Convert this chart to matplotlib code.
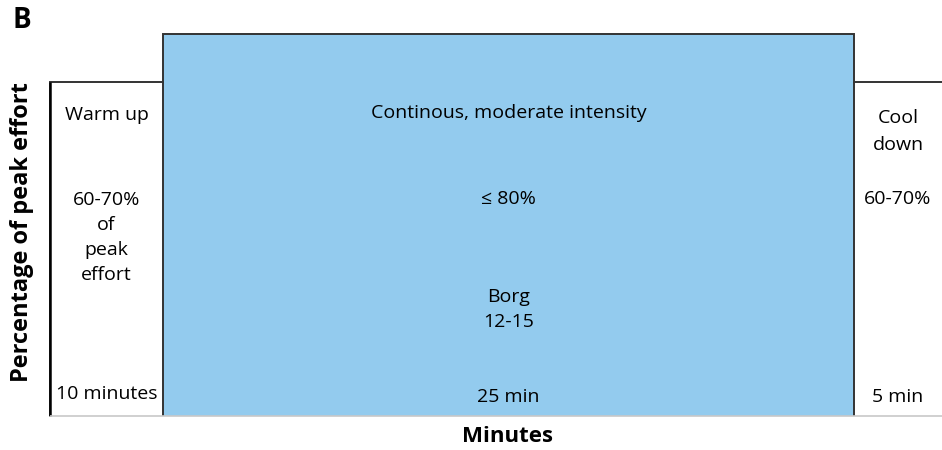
import matplotlib.pyplot as plt
from matplotlib.patches import Rectangle

plt.rcParams['font.family'] = ['Open Sans', 'DejaVu Sans']

# phases of the session
phases = ["Warm up", "Continous, moderate intensity", "Cool\ndown"]
effort = [70, 80, 70]            # % of peak effort (bar height)
intensity = ["60-70%\nof\npeak\neffort", "\u2264 80%", "60-70%"]
durations = ["10 minutes", "25 min", "5 min"]
borg = "Borg\n12-15"

# drawn widths (not to scale in the original figure)
widths = [113, 691, 88]
fills = ["white", "#93CBEE", "white"]

fig = plt.figure(figsize=(9.42, 4.5), dpi=100)
ax = fig.add_axes([50 / 942, 34 / 450, 892 / 942, 382 / 450])
ax.set_xlim(0, sum(widths))
ax.set_ylim(0, 80)

left = 0
centers = []
for w, h, c in zip(widths, effort, fills):
    ax.add_patch(Rectangle((left, 0), w, h, facecolor=c, edgecolor="none", clip_on=False))
    centers.append(left + w / 2)
    left += w

# outline of the step profile
edge = "#333333"
x0, x1, x2, x3 = 0, widths[0], widths[0] + widths[1], sum(widths)
ax.plot([x0, x0, x1, x1, x2, x2, x3], [0, effort[0], effort[0], effort[1], effort[1], effort[2], effort[2]],
        color=edge, lw=1.4, clip_on=False, solid_joinstyle="miter", solid_capstyle="butt")
ax.plot([x0, x0], [0, effort[0]], color="black", lw=1.8, clip_on=False, solid_capstyle="butt")
ax.plot([x1, x1], [0, effort[0]], color=edge, lw=1.4, clip_on=False, solid_capstyle="butt")
ax.plot([x2, x2], [0, effort[2]], color=edge, lw=1.4, clip_on=False, solid_capstyle="butt")
ax.plot([x0, x3], [0, 0], color="#c8c8c8", lw=1.2, clip_on=False, solid_capstyle="butt")

fs = 14
ax.text(centers[0], 63.0, phases[0], ha="center", va="center", fontsize=fs)
ax.text(centers[1], 63.4, phases[1], ha="center", va="center", fontsize=fs)
ax.text(centers[2], 59.6, phases[2], ha="center", va="center", fontsize=fs, linespacing=1.7)

ax.text(centers[0], 37.4, intensity[0], ha="center", va="center", fontsize=fs, linespacing=1.5)
ax.text(centers[1], 45.4, intensity[1], ha="center", va="center", fontsize=fs)
ax.text(centers[2], 45.4, intensity[2], ha="center", va="center", fontsize=fs)

ax.text(centers[1], 22.4, borg, ha="center", va="center", fontsize=fs, linespacing=1.5)

ax.text(centers[0], 4.6, durations[0], ha="center", va="center", fontsize=fs)
ax.text(centers[1], 3.9, durations[1], ha="center", va="center", fontsize=fs)
ax.text(centers[2], 4.0, durations[2], ha="center", va="center", fontsize=fs)

ax.axis("off")

fig.text(22 / 942, 1 - 232 / 450, "Percentage of peak effort", rotation=90, ha="center", va="center",
         fontsize=17, fontweight="bold")
fig.text(508 / 942, 1 - 437 / 450, "Minutes", ha="center", va="center", fontsize=16, fontweight="bold")
fig.text(22 / 942, 1 - 21 / 450, "B", ha="center", va="center", fontsize=20, fontweight="bold")

fig.savefig("out.png", dpi=100)
